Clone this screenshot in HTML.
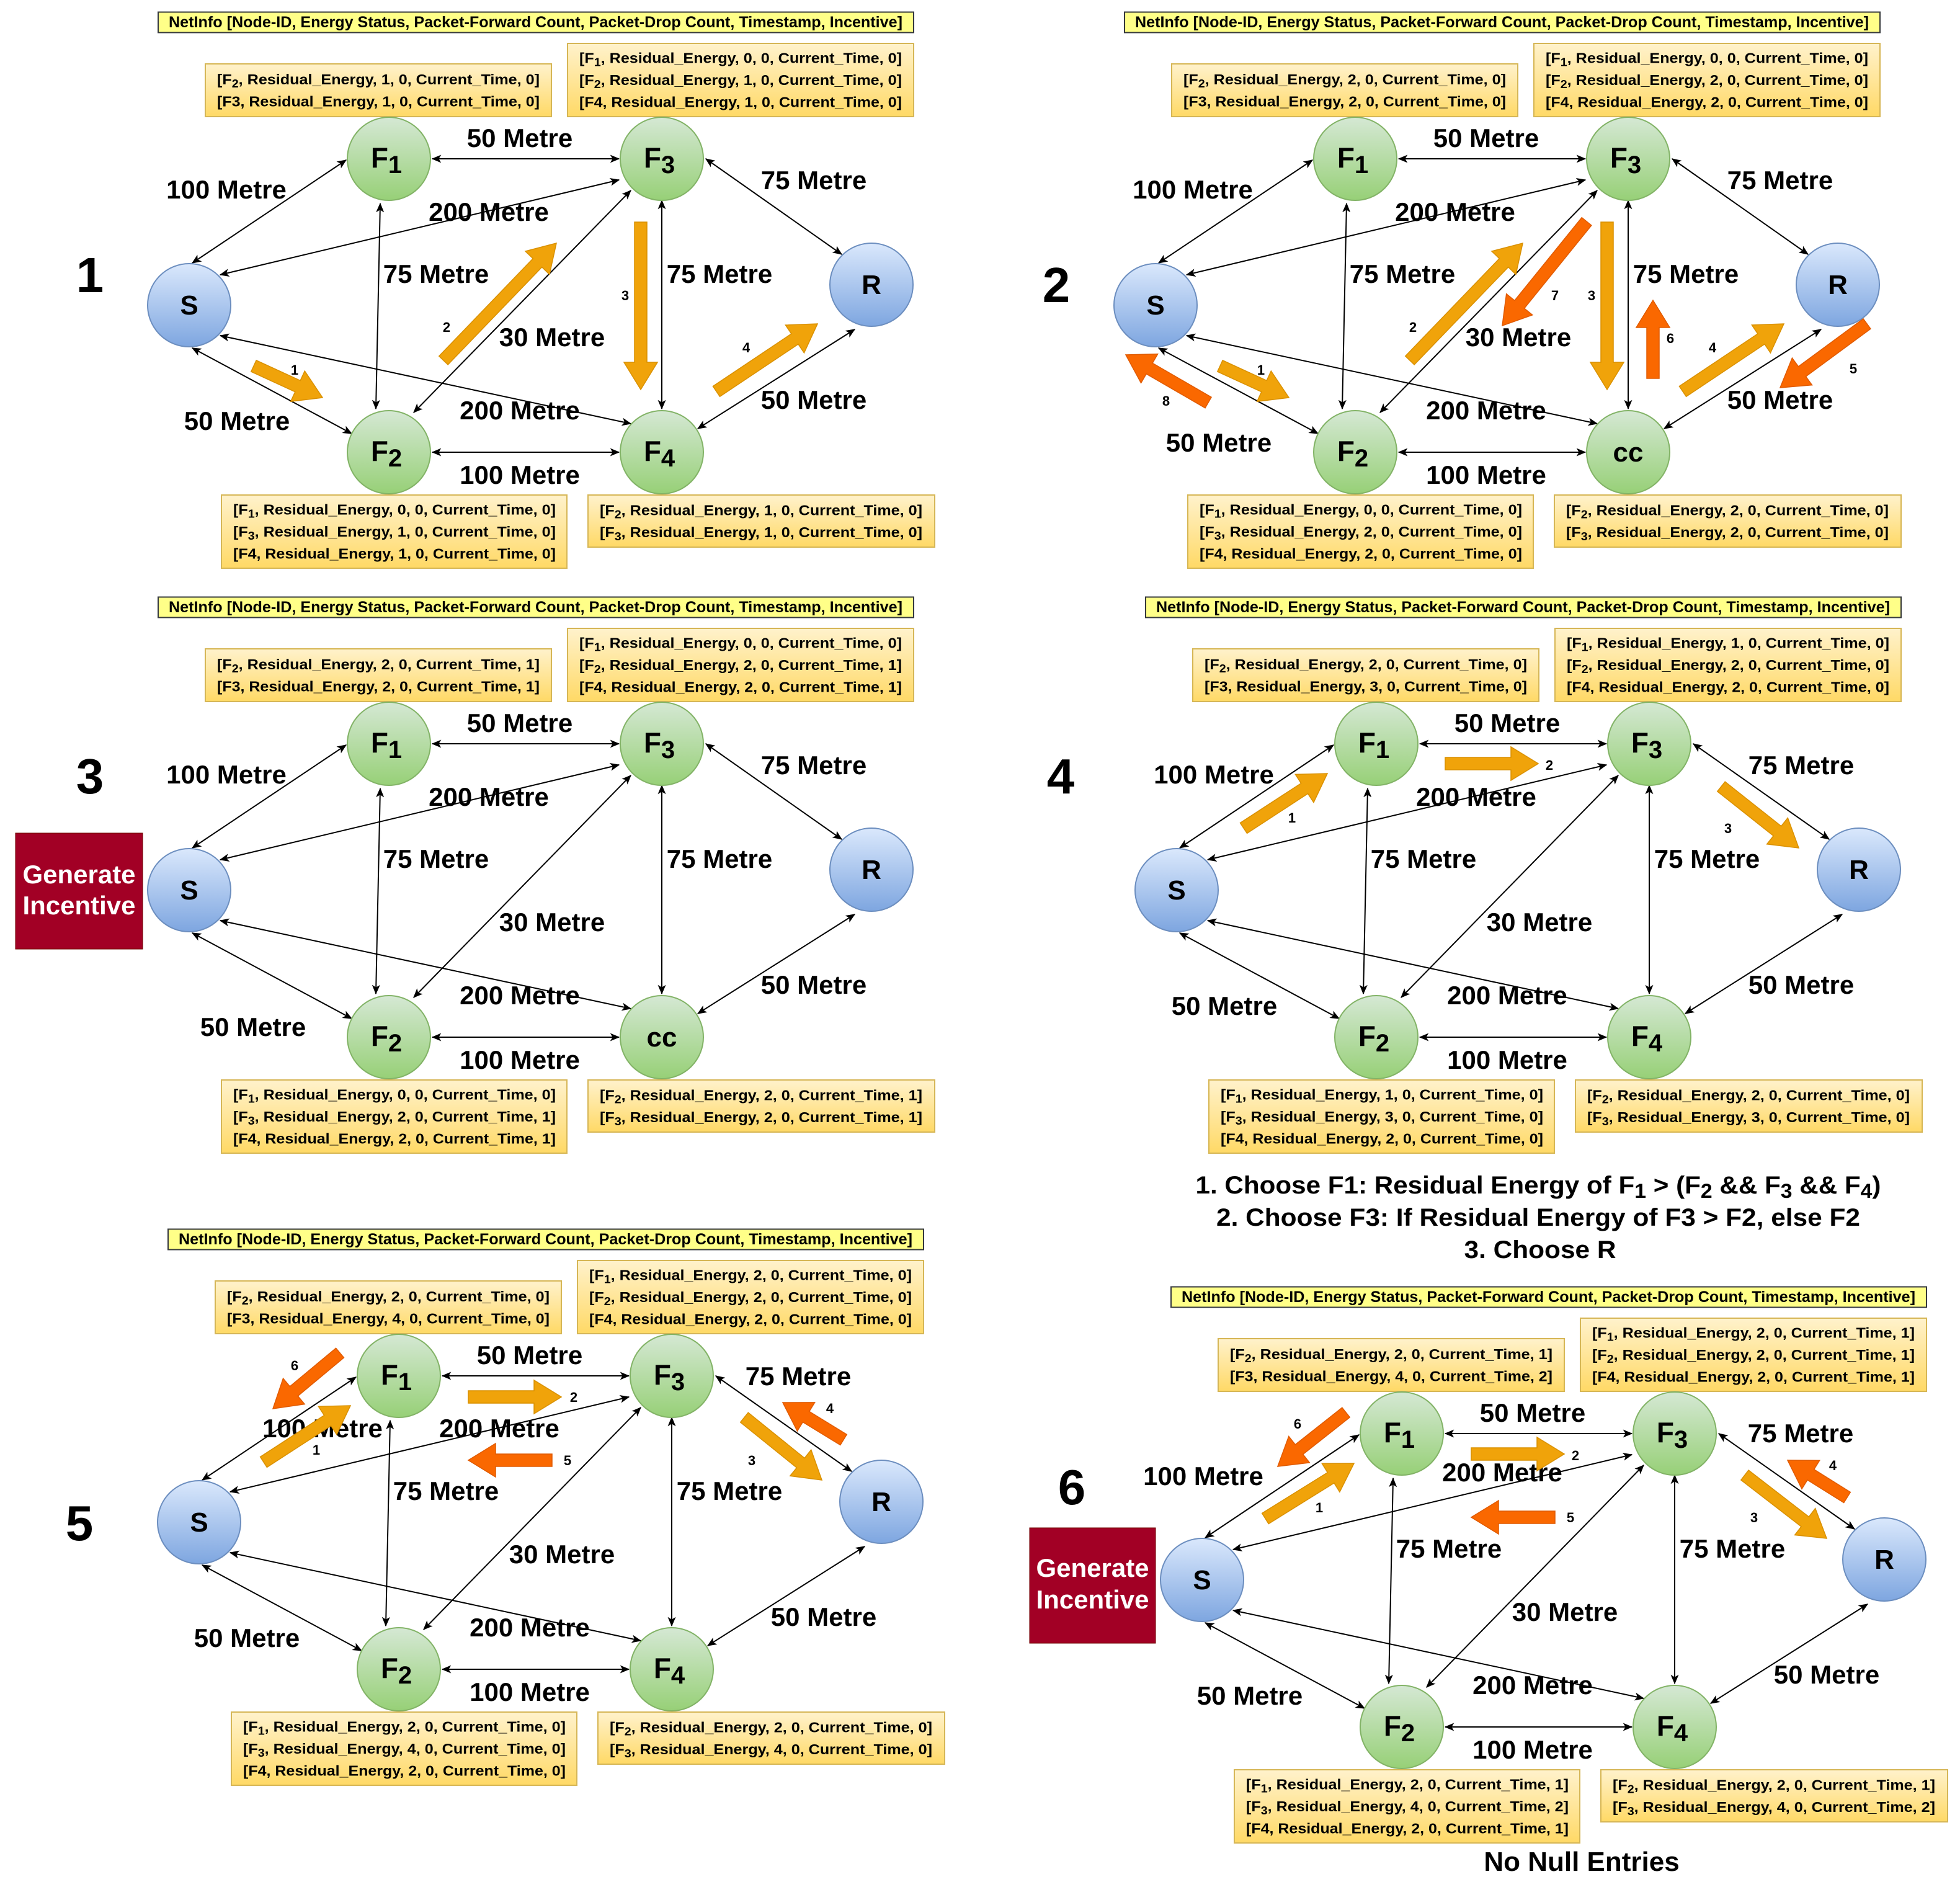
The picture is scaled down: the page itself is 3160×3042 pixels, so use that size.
<!DOCTYPE html>
<html><head><meta charset="utf-8">
<style>
html,body{margin:0;padding:0;background:#fff;}
svg{display:block;font-family:"Liberation Sans",Arial,sans-serif;font-weight:bold;}
</style></head>
<body>
<svg id="s" xmlns="http://www.w3.org/2000/svg" width="3160" height="3042" viewBox="0 0 3160 3042">
<defs>
<linearGradient id="gG" x1="0" y1="0" x2="0" y2="1"><stop offset="0" stop-color="#d5e8d4"/><stop offset="1" stop-color="#97d077"/></linearGradient>
<linearGradient id="gB" x1="0" y1="0" x2="0" y2="1"><stop offset="0" stop-color="#dae8fc"/><stop offset="1" stop-color="#7ea6e0"/></linearGradient>
<linearGradient id="gY" x1="0" y1="0" x2="0" y2="1"><stop offset="0" stop-color="#fff2cc"/><stop offset="1" stop-color="#ffd966"/></linearGradient>
<marker id="ah" viewBox="0 0 12 10" refX="11" refY="5" markerUnits="userSpaceOnUse" markerWidth="16" markerHeight="13" orient="auto-start-reverse"><path d="M0,0 L12,5 L0,10 L3,5 z" fill="#000"/></marker>
</defs>
<g id="root"></g>
</svg>
<script>
var out=[];
var E=[[310,424,558,258],[697,256,998,256],[355,443,998,290],[613,328,606,659],[667,665,1017,307],
[1067,323,1067,659],[1138,256,1357,410],[355,541,1017,683],[310,561,567,699],[697,729,998,729],[1125,691,1378,531]];
function lbl(x,y,t){out.push('<text x="'+x+'" y="'+(y+13)+'" font-size="42" text-anchor="middle">'+t+'</text>');}
function arrow(tx,ty,hx,hy,red,num,lx,ly){
 var dx=hx-tx,dy=hy-ty,L=Math.sqrt(dx*dx+dy*dy),ux=dx/L,uy=dy/L,nx=-uy,ny=ux;
 var w=10,hw=27,hl=44,bx=hx-ux*hl,by=hy-uy*hl;
 var p=[[tx+nx*w,ty+ny*w],[bx+nx*w,by+ny*w],[bx+nx*hw,by+ny*hw],[hx,hy],[bx-nx*hw,by-ny*hw],[bx-nx*w,by-ny*w],[tx-nx*w,ty-ny*w]];
 out.push('<polygon points="'+p.map(function(q){return q[0].toFixed(1)+','+q[1].toFixed(1)}).join(' ')+'" fill="'+(red?'#fa6800':'#f0a30a')+'" stroke="'+(red?'#e05a00':'#d99000')+'" stroke-width="1.5"/>');
 if(num) out.push('<text x="'+lx+'" y="'+(ly+8)+'" font-size="22" text-anchor="middle">'+num+'</text>');
}
function boxLine(x,y,len,r){
 var sub=r[1];
 var s='<text x="'+x+'" y="'+y+'" font-size="23" textLength="'+len+'" lengthAdjust="spacingAndGlyphs">[F';
 if(sub) s+='<tspan font-size="18" baseline-shift="-5">'+r[0]+'</tspan>'; else s+=r[0];
 s+=', Residual_Energy, '+r[2]+', '+r[3]+', Current_Time, '+r[4]+']</text>';
 out.push(s);
}
function box(x,y,w,h,rows,len){
 out.push('<rect x="'+x+'" y="'+y+'" width="'+w+'" height="'+h+'" fill="url(#gY)" stroke="#d6b656" stroke-width="2"/>');
 var n=rows.length, cy0 = y + h/2 - (n-1)*35.5/2;
 for(var i=0;i<n;i++) boxLine(x+19,cy0+i*35.5+8,len,rows[i]);
}
function node(x,y,t,blue,sub){
 out.push('<ellipse cx="'+x+'" cy="'+y+'" rx="67" ry="67" fill="url(#'+(blue?'gB':'gG')+')" stroke="'+(blue?'#6c8ebf':'#82b366')+'" stroke-width="2"/>');
 if(sub) out.push('<text x="'+(x-4)+'" y="'+(y+14)+'" font-size="46" text-anchor="middle">'+t+'<tspan font-size="40" baseline-shift="-9">'+sub+'</tspan></text>');
 else out.push('<text x="'+x+'" y="'+(y+15)+'" font-size="44" text-anchor="middle">'+t+'</text>');
}
function panel(P){
 var ox=P.ox,oy=P.oy;
 out.push('<g transform="translate('+ox+','+oy+')">');
 out.push('<rect x="255" y="19.5" width="1218" height="33" fill="#ffff88" stroke="#36393d" stroke-width="2"/>');
 out.push('<text x="272" y="44" font-size="25" textLength="1183" lengthAdjust="spacingAndGlyphs">NetInfo [Node-ID, Energy Status, Packet-Forward Count, Packet-Drop Count, Timestamp, Incentive]</text>');
 box(331,103,558,85,P.tl,520);
 box(915,70,558,118,P.tr,520);
 box(357,798,557,118,P.bl,520);
 box(948,798,559,84,P.br,520);
 E.forEach(function(e){out.push('<line x1="'+e[0]+'" y1="'+e[1]+'" x2="'+e[2]+'" y2="'+e[3]+'" stroke="#000" stroke-width="2" marker-start="url(#ah)" marker-end="url(#ah)"/>');});
 node(305,492,'S',true);node(1405,459,'R',true);
 node(627,256,'F',false,'1');node(1067,256,'F',false,'3');node(627,729,'F',false,'2');
 if(P.cc) node(1067,729,'cc',false); else node(1067,729,'F',false,'4');
 var L=P.L||{};
 lbl(838,224,'50 Metre');
 lbl(L.hx||365,L.hy||307,'100 Metre');
 lbl(L.tx||788,L.ty||343,'200 Metre');
 lbl(703,443,'75 Metre');lbl(1160,443,'75 Metre');
 lbl(L.rx||1312,L.ry||292,'75 Metre');
 lbl(890,545,'30 Metre');
 lbl(L.sx||382,L.sy||680,'50 Metre');
 lbl(838,663,'200 Metre');lbl(838,767,'100 Metre');
 lbl(1312,646,'50 Metre');
 out.push('<text x="'+P.nx+'" y="'+(P.ny+29)+'" font-size="80" text-anchor="middle">'+P.n+'</text>');
 out.push('</g>');
}
function R(a){return a.split(';').map(function(s){var p=s.split(',');return [p[0],p[1]=='s',p[2],p[3],p[4]];});}
var P1={ox:0,oy:0,n:'1',nx:145,ny:442,
 tl:R('2,s,1,0,0;3,n,1,0,0'),tr:R('1,s,0,0,0;2,s,1,0,0;4,n,1,0,0'),bl:R('1,s,0,0,0;3,s,1,0,0;4,n,1,0,0'),br:R('2,s,1,0,0;3,s,1,0,0')};
var P2={ox:1558,oy:0,n:'2',nx:145,ny:458,cc:true,L:{sx:407,sy:715},
 tl:R('2,s,2,0,0;3,n,2,0,0'),tr:R('1,s,0,0,0;2,s,2,0,0;4,n,2,0,0'),bl:R('1,s,0,0,0;3,s,2,0,0;4,n,2,0,0'),br:R('2,s,2,0,0;3,s,2,0,0')};
var P3={ox:0,oy:943,n:'3',nx:145,ny:307,cc:true,L:{sx:408,sy:714},
 tl:R('2,s,2,0,1;3,n,2,0,1'),tr:R('1,s,0,0,0;2,s,2,0,1;4,n,2,0,1'),bl:R('1,s,0,0,0;3,s,2,0,1;4,n,2,0,1'),br:R('2,s,2,0,1;3,s,2,0,1')};
var P4={ox:1592,oy:943,n:'4',nx:118,ny:307,
 tl:R('2,s,2,0,0;3,n,3,0,0'),tr:R('1,s,1,0,0;2,s,2,0,0;4,n,2,0,0'),bl:R('1,s,1,0,0;3,s,3,0,0;4,n,2,0,0'),br:R('2,s,2,0,0;3,s,3,0,0')};
var P5={ox:16,oy:1962,n:'5',nx:112,ny:492,L:{hx:504,hy:342,tx:789,ty:342,rx:1271,ry:258},
 tl:R('2,s,2,0,0;3,n,4,0,0'),tr:R('1,s,2,0,0;2,s,2,0,0;4,n,2,0,0'),bl:R('1,s,2,0,0;3,s,4,0,0;4,n,2,0,0'),br:R('2,s,2,0,0;3,s,4,0,0')};
var P6={ox:1633,oy:2055,n:'6',nx:95,ny:341,L:{hx:307,hy:326,tx:789,ty:320,rx:1270,ry:257},
 tl:R('2,s,2,0,1;3,n,4,0,2'),tr:R('1,s,2,0,1;2,s,2,0,1;4,n,2,0,1'),bl:R('1,s,2,0,1;3,s,4,0,2;4,n,2,0,1'),br:R('2,s,2,0,1;3,s,4,0,2')};
[P1,P2,P3,P4,P5,P6].forEach(panel);
arrow(409,590,520,641,0,'1',475,596);arrow(715,581,897,392,0,'2',720,527);arrow(1033,358,1033,628,0,'3',1008,476);arrow(1155,631,1318,522,0,'4',1203,560);
var d=1558;
arrow(409+d,590,520+d,641,0,'1',475+d,596);arrow(715+d,581,897+d,392,0,'2',720+d,527);arrow(1033+d,358,1033+d,628,0,'3',1008+d,476);arrow(1155+d,631,1318+d,522,0,'4',1203+d,560);
arrow(2558,357,2422,525,1,'7',2507,476);arrow(2665,610,2665,484,1,'6',2693,545);arrow(3010,522,2870,625,1,'5',2988,594);arrow(1948,649,1815,572,1,'8',1880,646);
arrow(2005,1335,2140,1247,0,'1',2083,1318);arrow(2330,1231,2480,1231,0,'2',2498,1233);arrow(2775,1268,2900,1367,0,'3',2786,1335);
arrow(548,2181,440,2271,1,'6',475,2201);arrow(425,2357,565,2266,0,'1',510,2337);arrow(755,2252,905,2252,0,'2',925,2252);
arrow(890,2354,755,2354,1,'5',915,2354);arrow(1360,2321,1262,2261,1,'4',1338,2270);arrow(1200,2285,1325,2386,0,'3',1212,2354);
arrow(2170,2277,2060,2364,1,'6',2092,2295);arrow(2040,2448,2183,2359,0,'1',2127,2430);arrow(2372,2344,2522,2344,0,'2',2540,2346);
arrow(2507,2446,2372,2446,1,'5',2532,2446);arrow(2978,2414,2882,2354,1,'4',2955,2362);arrow(2813,2378,2945,2480,0,'3',2828,2446);
function gen(x,y,w,h,y1,y2){out.push('<rect x="'+x+'" y="'+y+'" width="'+w+'" height="'+h+'" fill="#a20025" stroke="#6f0000" stroke-width="1"/>');
 out.push('<text x="'+(x+w/2)+'" y="'+(y1+15)+'" font-size="42" fill="#fff" text-anchor="middle">Generate</text>');
 out.push('<text x="'+(x+w/2)+'" y="'+(y2+15)+'" font-size="42" fill="#fff" text-anchor="middle">Incentive</text>');}
gen(25,1343,205,187,1409,1459);gen(1660,2463,203,186,2527,2578);
out.push('<text x="2480" y="1924" font-size="40" text-anchor="middle" textLength="1105" lengthAdjust="spacingAndGlyphs">1. Choose F1: Residual Energy of F<tspan font-size="32" baseline-shift="-7">1</tspan> &gt; (F<tspan font-size="32" baseline-shift="-7">2</tspan> &amp;&amp; F<tspan font-size="32" baseline-shift="-7">3</tspan> &amp;&amp; F<tspan font-size="32" baseline-shift="-7">4</tspan>)</text>');
out.push('<text x="2480" y="1976" font-size="40" text-anchor="middle" textLength="1038" lengthAdjust="spacingAndGlyphs">2. Choose F3: If Residual Energy of F3 &gt; F2, else F2</text>');
out.push('<text x="2483" y="2028" font-size="40" text-anchor="middle" textLength="245" lengthAdjust="spacingAndGlyphs">3. Choose R</text>');
out.push('<text x="2550" y="3016" font-size="44" text-anchor="middle">No Null Entries</text>');
document.getElementById('root').innerHTML=out.join('');
</script>
</body></html>
